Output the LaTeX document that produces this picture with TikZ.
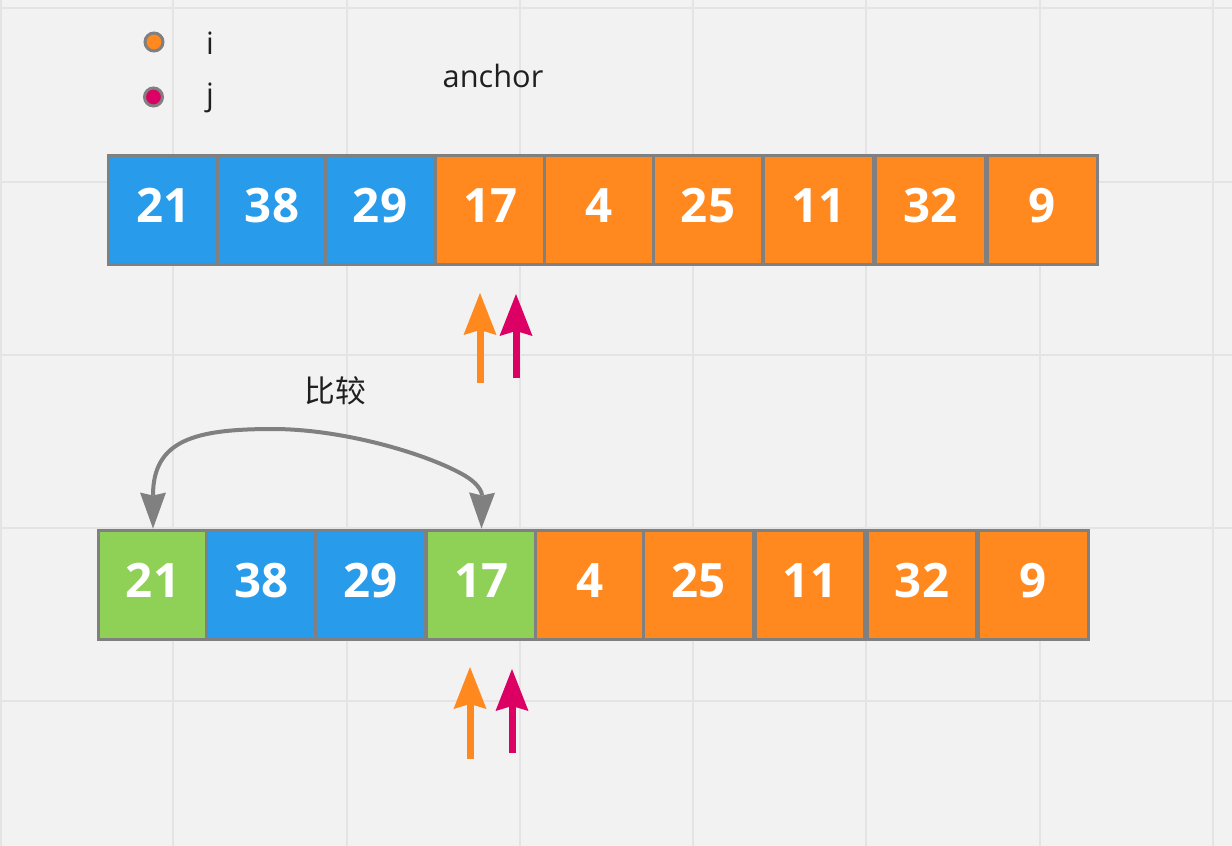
\documentclass[tikz,border=0pt]{standalone}
\usepackage{fontspec}
\setmainfont{Open Sans}
\newfontfamily\cjkfont{Noto Sans CJK SC}
\usetikzlibrary{arrows.meta}
\definecolor{bgcol}{HTML}{F2F2F2}
\definecolor{gridcol}{HTML}{E4E4E4}
\definecolor{edgecol}{HTML}{808080}
\definecolor{bluecol}{HTML}{299BEB}
\definecolor{orangecol}{HTML}{FF891E}
\definecolor{greencol}{HTML}{8FD057}
\definecolor{pinkcol}{HTML}{DC0064}
\definecolor{textcol}{HTML}{1F1F1F}
\begin{document}
\begin{tikzpicture}[x=0.02cm, y=-0.02cm,
    gridline/.style={gridcol, line width=0.04cm},
    cell/.style={draw=edgecol, line width=0.06cm, minimum width=2.2cm, minimum height=2.2cm,
      inner sep=0pt, text=white, text height=0.68cm, text depth=0.2cm,
      font=\fontsize{27}{27}\selectfont\bfseries},
    bluecell/.style={cell, fill=bluecol},
    orangecell/.style={cell, fill=orangecol},
    greencell/.style={cell, fill=greencol},
    dot/.style={circle, draw=edgecol, line width=0.06cm, minimum size=0.36cm, inner sep=0pt},
    txt/.style={text=textcol, inner sep=0pt, font=\fontsize{17.5}{17.5}\selectfont},
    ptr/.style={line width=0.14cm, -{Stealth[length=0.84cm, width=0.66cm, inset=0.1cm, line width=0pt]}},
    cmp/.style={draw=edgecol, line width=0.08cm,
      {Stealth[length=0.72cm, width=0.52cm, inset=0.06cm, line width=0pt]}-{Stealth[length=0.72cm, width=0.52cm, inset=0.06cm, line width=0pt]}}]
          \fill[bgcol] (0,0) rectangle (1232,846);
          \useasboundingbox (0,0) rectangle (1232,846);

          % background grid
          \draw[gridline] (1,0) -- (1,846);
          \draw[gridline] (173,0) -- (173,846);
          \draw[gridline] (347,0) -- (347,846);
          \draw[gridline] (520,0) -- (520,846);
          \draw[gridline] (693,0) -- (693,846);
          \draw[gridline] (866,0) -- (866,846);
          \draw[gridline] (1040,0) -- (1040,846);
          \draw[gridline] (1213,0) -- (1213,846);
          \draw[gridline] (0,8) -- (1232,8);
          \draw[gridline] (0,182) -- (1232,182);
          \draw[gridline] (0,355) -- (1232,355);
          \draw[gridline] (0,528) -- (1232,528);
          \draw[gridline] (0,701) -- (1232,701);

          % legend
          \node[dot, fill=orangecol] (doti) at (154,42) {};
          \node[dot, fill=pinkcol] (dotj) at (153.5,97) {};
          \node[txt, anchor=base] (labi) at (210,54) {i};
          \node[txt, anchor=base] (labj) at (210,105) {j};
          \node[txt, anchor=base] (anch) at (493,87) {anchor};

          % first row
          \node[bluecell] (t1) at (163.5,210) {21};
          \node[bluecell] (t2) at (272,210) {38};
          \node[bluecell] (t3) at (380,210) {29};
          \node[orangecell] (t4) at (490.5,210) {17};
          \node[orangecell] (t5) at (599.5,210) {4};
          \node[orangecell] (t6) at (708,210) {25};
          \node[orangecell] (t7) at (818.5,210) {11};
          \node[orangecell] (t8) at (930.5,210) {32};
          \node[orangecell] (t9) at (1042.5,210) {9};

          \coordinate (ti0) at (480,383);
          \coordinate (ti1) at (480,293);
          \coordinate (tj0) at (516,378);
          \coordinate (tj1) at (516,294);
          \draw[ptr, orangecol] (ti0) -- (ti1);
          \draw[ptr, pinkcol] (tj0) -- (tj1);

          % second row
          \node[greencell] (b1) at (153,585) {21};
          \node[bluecell] (b2) at (261.5,585) {38};
          \node[bluecell] (b3) at (370.5,585) {29};
          \node[greencell] (b4) at (481.5,585) {17};
          \node[orangecell] (b5) at (590,585) {4};
          \node[orangecell] (b6) at (698.5,585) {25};
          \node[orangecell] (b7) at (810,585) {11};
          \node[orangecell] (b8) at (922,585) {32};
          \node[orangecell] (b9) at (1033.5,585) {9};

          \node[txt, font=\cjkfont\fontsize{17.5}{17.5}\selectfont] (cmplab) at (335,391) {比较};
          \draw[cmp] (b1.north) .. controls (153,440) and (195,429) .. (273,429)
                .. controls (340,429) and (422,452) .. (462,474)
                .. controls (482,485) and (482,495) .. (b4.north);

          \coordinate (bi0) at (470,759);
          \coordinate (bi1) at (470,667);
          \coordinate (bj0) at (512,753);
          \coordinate (bj1) at (512,669);
          \draw[ptr, orangecol] (bi0) -- (bi1);
          \draw[ptr, pinkcol] (bj0) -- (bj1);
      \end{tikzpicture}
\end{document}
